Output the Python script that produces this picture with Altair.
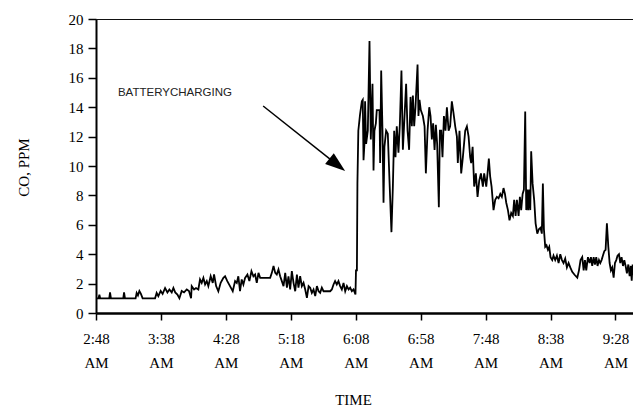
import altair as alt
import pandas as pd

# minutes after 2:48 AM
minutes = [0, 2.0, 2.6, 3.2, 10.2, 10.8, 11.5, 21.0, 21.6, 22.3, 30.5, 31.3, 32.3, 33.4, 34.6, 35.9,
           45.5, 46.7, 48.0, 49.8, 51.3, 53.2, 55.0, 56.5, 58.3, 59.6, 61.0, 62.7, 64.2, 66.0, 67.8,
           69.9, 71.6, 73.2, 73.7, 75.5, 77.0, 78.8, 80.1, 81.4, 82.7, 84.0, 85.3, 86.5, 88.3, 89.9,
           90.9, 92.5, 94.2, 96.0, 98.1, 99.4, 101.1, 103.2, 105.3, 107.1, 108.4, 109.6, 110.9, 112.2,
           113.5, 114.8, 116.6, 118.1, 119.7, 121.2, 122.5, 123.8, 125.1, 126.4, 129.0, 134.1, 135.4,
           136.7, 138.0, 139.2, 140.5, 141.8, 143.1, 144.4, 145.7, 147.0, 148.2, 149.5, 150.8, 152.1,
           153.4, 154.7, 155.9, 157.2, 158.5, 159.8, 161.1, 162.4, 163.7, 164.9, 166.2, 167.5, 168.8,
           170.1, 171.4, 172.6, 173.9, 175.2, 180.3, 181.6, 182.9, 184.1, 185.4, 186.7, 188.0, 189.3,
           190.6, 191.9, 193.2, 194.5, 195.7, 197.0, 198.3, 199.8, 200.2, 200.9, 201.3, 202.0, 203.3,
           204.7, 205.4, 206.0, 206.7, 207.2, 208.0, 209.3, 210.6, 211.6, 212.9, 213.7, 214.4, 215.5,
           216.2, 218.3, 218.8, 219.6, 220.6, 221.4, 222.1, 223.4, 224.7, 226.0, 227.5, 228.6, 229.6,
           230.6, 231.6, 232.9, 234.0, 235.2, 236.3, 237.3, 238.8, 239.9, 241.1, 242.2, 243.2, 244.0,
           245.0, 246.0, 247.6, 248.3, 249.1, 250.1, 251.7, 253.0, 254.0, 255.3, 256.6, 257.6, 258.6,
           259.6, 260.7, 261.7, 262.7, 264.0, 264.8, 265.8, 266.8, 267.9, 269.1, 270.2, 271.5, 272.7,
           274.0, 275.3, 276.6, 277.9, 278.6, 279.9, 281.2, 282.5, 284.3, 285.6, 286.9, 288.1, 288.9,
           290.0, 291.2, 292.5, 293.8, 295.1, 296.4, 297.9, 298.9, 300.5, 301.5, 302.5, 303.5, 304.6,
           306.1, 307.4, 308.7, 310.0, 311.3, 312.5, 313.8, 314.9, 315.9, 317.2, 318.4, 319.7, 321.0,
           322.0, 323.1, 324.1, 325.4, 326.4, 327.4, 328.5, 329.5, 330.5, 331.3, 332.1, 332.8, 333.6,
           334.4, 335.1, 336.2, 337.4, 338.5, 339.8, 341.0, 342.3, 343.3, 344.1, 344.9, 345.9, 346.9,
           348.0, 349.0, 350.0, 351.3, 352.3, 353.6, 354.9, 356.2, 357.5, 358.8, 360.0, 361.3, 362.6,
           363.9, 365.2, 366.7, 368.5, 370.6, 371.9, 373.1, 374.4, 375.5, 376.5, 377.5, 378.8, 380.1,
           381.1, 382.1, 383.2, 384.2, 385.2, 386.2, 387.3, 388.3, 389.3, 390.3, 391.4, 392.4, 393.4,
           394.5, 395.5, 396.5, 397.5, 398.6, 399.6, 400.6, 401.6, 402.7, 403.7, 404.7, 405.8, 406.8,
           407.8, 408.8, 409.9, 410.9, 411.8, 412.5, 413.2, 414.0]

co_ppm = [1.0, 1.0, 1.25, 1.0, 1.0, 1.4, 1.0, 1.0, 1.4, 1.0, 1.0, 1.37, 1.2, 1.5, 1.3, 1.0,
          1.0, 1.37, 1.15, 1.5, 1.3, 1.7, 1.4, 1.6, 1.4, 1.7, 1.4, 1.25, 1.0, 1.5, 1.4,
          1.6, 1.5, 1.0, 1.83, 1.6, 1.7, 1.6, 2.28, 2.05, 2.39, 1.94, 2.17, 1.83, 2.5, 2.05,
          2.62, 1.83, 1.48, 2.05, 2.39, 2.5, 2.17, 1.83, 1.48, 2.17, 2.05, 2.5, 1.48, 2.28,
          1.94, 2.39, 2.62, 2.17, 2.85, 2.5, 2.62, 2.05, 2.73, 2.39, 2.39, 2.39, 2.73,
          3.2, 2.73, 2.62, 2.96, 2.5, 2.17, 1.83, 2.73, 1.72, 2.5, 1.6, 2.85, 2.05,
          1.48, 2.62, 1.72, 2.5, 1.83, 2.05, 1.6, 1.03, 1.83, 1.72, 1.37, 1.6, 1.15,
          1.83, 1.48, 1.37, 1.72, 1.48, 1.48, 1.6, 1.94, 2.17, 1.94, 2.17, 1.83, 1.6,
          2.05, 1.48, 1.83, 1.6, 1.72, 1.48, 1.6, 1.26, 2.9, 2.9, 8.8, 12.4, 13.5,
          14.4, 14.5, 10.4, 11.5, 14.4, 11.5, 12.4, 18.5, 11.8, 15.6, 9.7, 12.4, 12.9,
          13.8, 13.8, 10.2, 16.5, 12.4, 7.5, 11.3, 12.4, 12.2, 9.0, 5.5, 8.6, 12.4,
          10.6, 12.7, 10.9, 12.9, 16.5, 11.1, 12.9, 15.6, 12.4, 11.1, 14.7, 12.7, 14.8,
          12.7, 14.0, 16.9, 13.4, 14.5, 13.8, 13.4, 12.7, 9.5, 12.4, 14.0, 13.4, 11.8,
          12.9, 11.1, 12.8, 11.5, 7.2, 12.4, 12.4, 10.6, 13.4, 12.4, 14.0, 12.4, 12.7,
          14.4, 13.6, 12.7, 12.0, 10.2, 12.4, 9.5, 10.6, 12.4, 12.7, 12.0, 10.6, 10.2,
          11.3, 8.6, 9.5, 7.9, 9.0, 9.5, 8.6, 9.5, 8.6, 9.5, 10.5, 9.3, 8.6,
          7.0, 7.7, 7.9, 7.8, 8.1, 7.9, 8.5, 8.1, 7.5, 7.0, 6.3, 6.8, 6.6,
          7.7, 6.6, 7.7, 6.6, 7.9, 7.0, 8.1, 8.4, 13.7, 7.0, 8.4, 7.0, 8.4,
          7.0, 11.0, 8.8, 7.7, 6.1, 5.4, 5.7, 5.8, 5.4, 8.8, 5.7, 4.5, 4.6,
          4.3, 4.5, 3.8, 3.6, 3.9, 3.6, 3.9, 3.4, 4.0, 3.6, 3.4, 3.7, 3.1,
          3.4, 3.1, 2.8, 2.6, 2.4, 2.9, 3.6, 3.8, 2.9, 3.6, 2.9, 3.8, 3.4,
          3.8, 3.2, 3.8, 3.3, 3.8, 3.2, 3.6, 3.4, 3.6, 3.9, 4.2, 4.3, 6.1,
          4.5, 3.4, 2.9, 3.1, 2.4, 3.4, 3.6, 3.9, 4.0, 3.4, 3.8, 3.2, 3.6,
          3.2, 2.7, 3.3, 2.5, 3.2, 2.2, 3.3, 2.6]

tick_minutes = [0, 50, 100, 150, 200, 250, 300, 350, 400]
y_ticks = [0, 2, 4, 6, 8, 10, 12, 14, 16, 18, 20]

annotation_text = ["BATTERYCHARGING"]
annotation_pos = [16.9, 14.76]          # minutes, ppm
arrow_start = [128.7, 14.08]
arrow_head = [185.8, 10.08]

df = pd.DataFrame({"t": minutes, "co": co_ppm})

X_MAX = 413.5
xscale = alt.Scale(domain=[0, X_MAX], nice=False, zero=False)
yscale = alt.Scale(domain=[0, 20], nice=False)

SERIF = "Liberation Serif"

x_axis = alt.Axis(
    values=tick_minutes,
    labelExpr="[floor((168+datum.value)/60) + ':' + (((168+datum.value)%60) < 10 ? '0' : '') + ((168+datum.value)%60), 'AM']",
    labelFont=SERIF, labelFontSize=15, labelColor="#000",
    labelLineHeight=24, labelPadding=11, labelBaseline="top",
    tickSize=7, tickColor="#000", tickWidth=1.5,
    domainColor="#000", domainWidth=2.5,
    grid=False, labelFlush=False, labelOverlap=False,
    title="TIME", titleFont=SERIF, titleFontSize=15, titleFontWeight="normal",
    titleColor="#000", titleX=257, titleY=86, titleBaseline="middle", titleAlign="center",
)
y_axis = alt.Axis(
    values=y_ticks, tickCount=11, format="d",
    labelFont=SERIF, labelFontSize=15, labelColor="#000", labelPadding=5,
    labelOverlap=False, labelFlush=False, labelBound=False,
    tickSize=8, tickColor="#000", tickWidth=1.5,
    domainColor="#000", domainWidth=2,
    grid=False,
    title="CO, PPM", titleFont=SERIF, titleFontSize=15, titleFontWeight="normal",
    titleColor="#000", titleX=-73, titleY=148, titleAngle=-90,
    titleBaseline="middle", titleAlign="center",
)


def X(field):
    return alt.X(field, scale=xscale, axis=x_axis)


def Y(field):
    return alt.Y(field, scale=yscale, axis=y_axis)


line = alt.Chart(df).mark_line(color="#000", strokeWidth=1.8, clip=True).encode(
    x=X("t:Q"), y=Y("co:Q"),
)

# thin frame line along the top of the plot area
top_rule = alt.Chart(df).mark_rule(color="#111", strokeWidth=1.2).encode(
    x=alt.value(0), x2=alt.value(537), y=alt.value(0.5)
)

ann_df = pd.DataFrame({"t": [annotation_pos[0]], "co": [annotation_pos[1]], "label": annotation_text})
ann = alt.Chart(ann_df).mark_text(
    align="left", baseline="alphabetic", font="Liberation Sans", fontSize=11.5, color="#222"
).encode(x=X("t:Q"), y=Y("co:Q"), text="label:N")

arrow_df = pd.DataFrame({"t": [arrow_start[0]], "co": [arrow_start[1]],
                         "t2": [arrow_head[0]], "co2": [arrow_head[1]]})
arrow_line = alt.Chart(arrow_df).mark_rule(color="#000", strokeWidth=1.5).encode(
    x=X("t:Q"), y=Y("co:Q"), x2="t2:Q", y2="co2:Q"
)
head_df = pd.DataFrame({"t": [arrow_head[0]], "co": [arrow_head[1]]})
arrow_tip = alt.Chart(head_df).mark_point(
    shape="M0,-1L0.7,1L-0.7,1Z", size=400, angle=128.4, filled=True, color="#000", opacity=1
).encode(x=X("t:Q"), y=Y("co:Q"))

chart = alt.layer(line, top_rule, ann, arrow_line, arrow_tip).properties(
    width=537, height=294,
    autosize=alt.AutoSizeParams(type="none"),
    padding={"left": 96, "top": 19, "right": 0, "bottom": 93},
    background="white",
).configure_view(strokeWidth=0)

chart.save("out.html", embed_options={"renderer": "svg", "actions": False})
